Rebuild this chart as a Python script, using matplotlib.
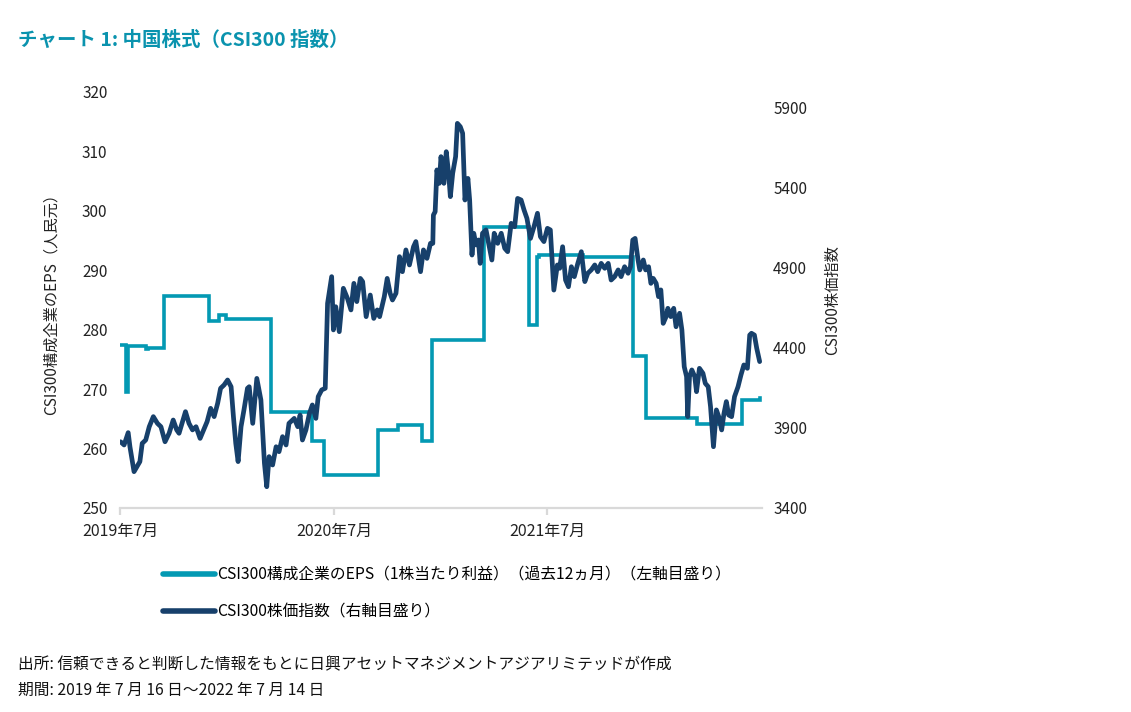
import matplotlib
matplotlib.use("Agg")
import matplotlib.pyplot as plt
import pandas as pd
from matplotlib.lines import Line2D

plt.rcParams['font.family'] = ['Noto Sans CJK JP', 'DejaVu Sans']

# ---------------- data ----------------
eps_dates = ["2019-07-16", "2019-07-26", "2019-07-29", "2019-08-30", "2019-09-02",
             "2019-09-30", "2019-12-16", "2020-01-02", "2020-01-14", "2020-03-30",
             "2020-06-09", "2020-06-29", "2020-09-30", "2020-11-02", "2020-12-14",
             "2020-12-31", "2021-03-30", "2021-06-15", "2021-06-29", "2021-07-01",
             "2021-09-15", "2021-12-09", "2021-12-31", "2022-03-28", "2022-06-13",
             "2022-07-14"]
eps_values = [277.4, 269.5, 277.3, 276.8, 277.0,
              285.7, 281.5, 282.5, 281.8, 266.2,
              261.2, 255.6, 263.1, 264.0, 261.3,
              278.2, 297.3, 280.8, 292.3, 292.6,
              292.2, 275.5, 265.1, 264.1, 268.2,
              268.5]

csi_dates = ["2019-07-17", "2019-07-23", "2019-07-30", "2019-08-02", "2019-08-09",
             "2019-08-19", "2019-08-23", "2019-08-29", "2019-09-04", "2019-09-11",
             "2019-09-18", "2019-09-24", "2019-10-01", "2019-10-08", "2019-10-15",
             "2019-10-21", "2019-10-25", "2019-10-31", "2019-11-05", "2019-11-11",
             "2019-11-17", "2019-11-23", "2019-11-30", "2019-12-06", "2019-12-12",
             "2019-12-18", "2019-12-24", "2019-12-30", "2020-01-04", "2020-01-10",
             "2020-01-16", "2020-01-22", "2020-01-26", "2020-01-30", "2020-02-03",
             "2020-02-08", "2020-02-13", "2020-02-19", "2020-02-22", "2020-02-28",
             "2020-03-06", "2020-03-13", "2020-03-19", "2020-03-23", "2020-03-27",
             "2020-04-02", "2020-04-08", "2020-04-13", "2020-04-19", "2020-04-25",
             "2020-04-30", "2020-05-09", "2020-05-15", "2020-05-19", "2020-05-23",
             "2020-05-29", "2020-06-04", "2020-06-09", "2020-06-15", "2020-06-19",
             "2020-06-25", "2020-07-01", "2020-07-05", "2020-07-12", "2020-07-15",
             "2020-07-19", "2020-07-25", "2020-08-01", "2020-08-08", "2020-08-14",
             "2020-08-19", "2020-08-24", "2020-08-30", "2020-09-03", "2020-09-09",
             "2020-09-16", "2020-09-22", "2020-09-28", "2020-10-02", "2020-10-10",
             "2020-10-15", "2020-10-20", "2020-10-24", "2020-10-30", "2020-11-05",
             "2020-11-10", "2020-11-16", "2020-11-22", "2020-11-29", "2020-12-03",
             "2020-12-11", "2020-12-16", "2020-12-22", "2020-12-28", "2021-01-01",
             "2021-01-02", "2021-01-05", "2021-01-08", "2021-01-12", "2021-01-15",
             "2021-01-20", "2021-01-24", "2021-01-28", "2021-01-31", "2021-02-04",
             "2021-02-09", "2021-02-12", "2021-02-17", "2021-02-21", "2021-02-25",
             "2021-03-02", "2021-03-05", "2021-03-09", "2021-03-12", "2021-03-16",
             "2021-03-20", "2021-03-23", "2021-03-27", "2021-04-02", "2021-04-08",
             "2021-04-12", "2021-04-16", "2021-04-22", "2021-04-28", "2021-05-04",
             "2021-05-09", "2021-05-15", "2021-05-21", "2021-05-26", "2021-06-01",
             "2021-06-06", "2021-06-11", "2021-06-17", "2021-06-23", "2021-06-29",
             "2021-07-04", "2021-07-10", "2021-07-16", "2021-07-21", "2021-07-27",
             "2021-08-02", "2021-08-06", "2021-08-11", "2021-08-16", "2021-08-21",
             "2021-08-26", "2021-08-31", "2021-09-06", "2021-09-12", "2021-09-18",
             "2021-09-23", "2021-09-29", "2021-10-05", "2021-10-10", "2021-10-16",
             "2021-10-22", "2021-10-28", "2021-11-02", "2021-11-08", "2021-11-14",
             "2021-11-19", "2021-11-25", "2021-12-01", "2021-12-05", "2021-12-09",
             "2021-12-13", "2021-12-18", "2021-12-21", "2021-12-27", "2021-12-31",
             "2022-01-05", "2022-01-09", "2022-01-13", "2022-01-18", "2022-01-22",
             "2022-01-26", "2022-01-30", "2022-02-04", "2022-02-07", "2022-02-12",
             "2022-02-17", "2022-02-21", "2022-02-27", "2022-03-03", "2022-03-07",
             "2022-03-11", "2022-03-13", "2022-03-16", "2022-03-20", "2022-03-25",
             "2022-03-28", "2022-04-02", "2022-04-08", "2022-04-12", "2022-04-17",
             "2022-04-21", "2022-04-26", "2022-05-01", "2022-05-05", "2022-05-10",
             "2022-05-14", "2022-05-18", "2022-05-22", "2022-05-27", "2022-06-01",
             "2022-06-07", "2022-06-12", "2022-06-17", "2022-06-23", "2022-06-27",
             "2022-06-30", "2022-07-05", "2022-07-09", "2022-07-14"]
csi_values = [3814, 3794, 3871, 3783, 3627,
              3690, 3804, 3825, 3908, 3971,
              3929, 3908, 3814, 3867, 3950,
              3888, 3867, 3940, 4002, 3929,
              3888, 3908, 3835, 3888, 3940,
              4023, 3971, 4054, 4148, 4169,
              4200, 4158, 3971, 3804, 3690,
              3908, 4013, 4148, 4158, 3929,
              4210, 4075, 3681, 3533, 3721,
              3669, 3783, 3752, 3846, 3794,
              3929, 3960, 3908, 3981, 3825,
              3888, 3992, 4044, 3960, 4096,
              4138, 4148, 4679, 4846, 4513,
              4658, 4502, 4773, 4710, 4638,
              4804, 4690, 4835, 4815, 4596,
              4731, 4585, 4638, 4596, 4721,
              4835, 4742, 4700, 4742, 4971,
              4877, 5013, 4919, 5033, 5065,
              4877, 5013, 4960, 5054, 5054,
              5231, 5252, 5513, 5429, 5596,
              5429, 5627, 5492, 5346, 5492,
              5596, 5804, 5783, 5742, 5325,
              5460, 5325, 4981, 5117, 5044,
              5075, 4929, 5117, 5138, 5023,
              4950, 5117, 5054, 5117, 5023,
              5002, 5179, 5158, 5335, 5325,
              5263, 5210, 5085, 5158, 5242,
              5096, 5065, 5148, 5138, 4762,
              4919, 4898, 5033, 4825, 4783,
              4908, 4846, 4929, 5002, 4815,
              4867, 4888, 4919, 4877, 4929,
              4898, 4929, 4825, 4846, 4888,
              4846, 4908, 4867, 4908, 5075,
              5085, 4950, 4888, 4950, 4888,
              4908, 4804, 4835, 4804, 4721,
              4763, 4554, 4596, 4648, 4596,
              4648, 4533, 4617, 4513, 4283,
              4221, 3971, 4221, 4263, 4221,
              4127, 4273, 4242, 4179, 4158,
              4033, 3783, 4013, 3971, 3888,
              3992, 4065, 3981, 3971, 4096,
              4158, 4231, 4294, 4273, 4481,
              4492, 4481, 4398, 4315]

x_tick_dates = ["2019-07-16", "2020-07-16", "2021-07-16"]
x_tick_labels = ["2019年7月", "2020年7月", "2021年7月"]
left_ticks = [250, 260, 270, 280, 290, 300, 310, 320]
right_ticks = [3400, 3900, 4400, 4900, 5400, 5900]

title = "チャート 1: 中国株式（CSI300 指数）"
left_label = "CSI300構成企業のEPS（人民元）"
right_label = "CSI300株価指数"
eps_name = "CSI300構成企業のEPS（1株当たり利益）（過去12ヵ月）（左軸目盛り）"
csi_name = "CSI300株価指数（右軸目盛り）"
source = "出所: 信頼できると判断した情報をもとに日興アセットマネジメントアジアリミテッドが作成"
period = "期間: 2019 年 7 月 16 日～2022 年 7 月 14 日"

# ---------------- style ----------------
teal = "#0399B3"
navy = "#17406B"
grey = "#D9D9D9"

W, H = 1131, 712
fig = plt.figure(figsize=(W / 100, H / 100), dpi=100)
ax = fig.add_axes([120 / W, 1 - 508 / H, (762 - 120) / W, (508 - 92) / H])
ax2 = ax.twinx()

ax.plot(pd.to_datetime(eps_dates), eps_values, color=teal, lw=2.6,
        drawstyle="steps-post", solid_joinstyle="miter")
ax2.plot(pd.to_datetime(csi_dates), csi_values, color=navy, lw=3.4,
         solid_joinstyle="round", solid_capstyle="round")

ax.set_xlim(pd.Timestamp("2019-07-16"), pd.Timestamp("2022-07-18"))
ax.set_ylim(250, 320)
ax2.set_ylim(3400, 6000)

ax.set_yticks(left_ticks)
ax2.set_yticks(right_ticks)
ax.set_xticks(pd.to_datetime(x_tick_dates))
ax.set_xticklabels(x_tick_labels)

for a in (ax, ax2):
    for s in ("top", "left", "right"):
        a.spines[s].set_visible(False)
    a.spines["bottom"].set_color(grey)
    a.spines["bottom"].set_linewidth(1.6)
ax2.spines["bottom"].set_visible(False)

ax.tick_params(axis="y", length=0, pad=9, labelsize=11, labelcolor="#222222")
ax2.tick_params(axis="y", length=0, pad=8, labelsize=11, labelcolor="#222222")
ax.tick_params(axis="x", length=5, width=1.6, color=grey, pad=6,
               labelsize=11.5, labelcolor="#222222")

ax.set_ylabel(left_label, fontsize=11, labelpad=16, color="#222222")
ax2.set_ylabel(right_label, fontsize=11, labelpad=12, rotation=90, color="#222222")

fig.text(18 / W, 1 - 40 / H, title, fontsize=14, fontweight="bold",
         color="#0A93AE", va="center", ha="left")

handles = [Line2D([], [], color=teal, lw=4, solid_capstyle="round"),
           Line2D([], [], color=navy, lw=4, solid_capstyle="round")]
fig.legend(handles, [eps_name, csi_name], loc="upper left",
           bbox_to_anchor=(163 / W, 1 - 566 / H), frameon=False,
           fontsize=11.3, handlelength=3.3, handletextpad=0.15,
           labelspacing=1.3, borderpad=0, borderaxespad=0)

fig.text(18 / W, 1 - 665 / H, source, fontsize=11.3, va="center", ha="left",
         color="#111111")
fig.text(18 / W, 1 - 690 / H, period, fontsize=11.3, va="center", ha="left",
         color="#111111")

fig.savefig("out.png", dpi=100)
